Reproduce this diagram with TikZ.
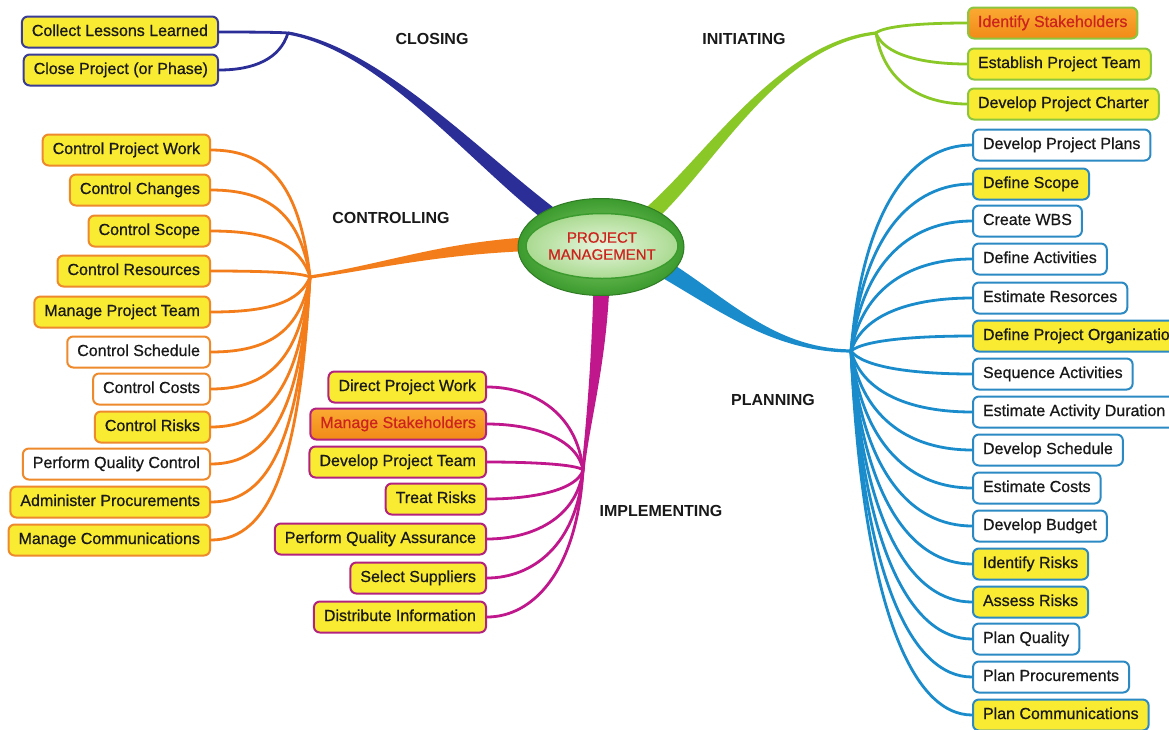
\documentclass[tikz,border=0pt]{standalone}
\usepackage{fontspec}
\setmainfont{Liberation Sans}
\newfontfamily\boxfont[FakeBold=0.7]{Liberation Sans}
\usetikzlibrary{shapes.geometric,calc}

\definecolor{cnavy}{RGB}{44,46,152}
\definecolor{cgreen}{RGB}{138,200,40}
\definecolor{corange}{RGB}{243,125,26}
\definecolor{cmagenta}{RGB}{192,24,140}
\definecolor{cblue}{RGB}{26,140,204}
\definecolor{bnavy}{RGB}{58,60,150}
\definecolor{bgreen}{RGB}{140,198,63}
\definecolor{borange}{RGB}{238,138,44}
\definecolor{bmagenta}{RGB}{178,34,126}
\definecolor{bblue}{RGB}{43,138,196}
\definecolor{boxyellow}{RGB}{249,235,50}
\definecolor{boxorangetop}{RGB}{250,170,50}
\definecolor{boxorangebot}{RGB}{242,138,24}
\definecolor{stakered}{RGB}{205,35,30}
\definecolor{txt}{RGB}{25,25,25}
\definecolor{ringdark}{RGB}{60,155,46}
\definecolor{ringlight}{RGB}{140,210,110}
\definecolor{corelight}{RGB}{232,246,222}
\definecolor{coremid}{RGB}{170,218,145}

% tapered main branch: start, control 1, control 2, end, half width at start, half width at end, colour
\newcommand\taperbranch[7]{%
  \fill[#7] ($(#1)!#5!90:(#2)$)
      .. controls ($(#2)!#5!-90:(#1)$) and ($(#3)!#6!90:(#4)$) .. ($(#4)!#6!-90:(#3)$)
      -- ($(#4)!#6!90:(#3)$)
      .. controls ($(#3)!#6!-90:(#4)$) and ($(#2)!#5!90:(#1)$) .. ($(#1)!#5!-90:(#2)$)
      -- cycle;}

\tikzset{
  box/.style={rounded corners=6pt, line width=2pt, minimum height=31pt,
    inner xsep=10pt, inner ysep=0pt, text height=11.5pt, text depth=3.5pt,
    font=\boxfont\fontsize{16}{19}\selectfont, text=txt},
  yel/.style={fill=boxyellow},
  wht/.style={fill=white},
  org/.style={top color=boxorangetop, bottom color=boxorangebot, text=stakered},
  clbox/.style={box, draw=bnavy, anchor=east},
  cobox/.style={box, draw=borange, anchor=east},
  imbox/.style={box, draw=bmagenta, anchor=east},
  inbox/.style={box, draw=bgreen, anchor=west},
  plbox/.style={box, draw=bblue, anchor=west},
  twig/.style={line width=2.8pt, line cap=round},
  phase/.style={font=\bfseries\fontsize{16}{19}\selectfont, text=black!90},
}

\begin{document}
\begin{tikzpicture}[x=1pt, y=-1pt]
\useasboundingbox (0,0) rectangle (1169,729);
\clip (0,0) rectangle (1169,729);
\fill[white] (0,0) rectangle (1169,729);

% hubs where each phase fans out
\coordinate (hCl) at (288,33);
\coordinate (hIn) at (876,33);
\coordinate (hCo) at (310,277);
\coordinate (hIm) at (583,470);
\coordinate (hPl) at (851,351);

% main branch roots (hidden under the central ellipse) and their controls
\coordinate (sCl) at (565,226);  \coordinate (aCl) at (480,165); \coordinate (bCl) at (385,50);
\coordinate (sIn) at (636,226);  \coordinate (aIn) at (700,180); \coordinate (bIn) at (770,45);
\coordinate (sCo) at (560,243);  \coordinate (aCo) at (450,245); \coordinate (bCo) at (390,265);
\coordinate (sIm) at (602,268);  \coordinate (aIm) at (600,360); \coordinate (bIm) at (588,420);
\coordinate (sPl) at (640,255);  \coordinate (aPl) at (715,295); \coordinate (bPl) at (765,350);

\taperbranch{sCl}{aCl}{bCl}{hCl}{8pt}{1.6pt}{cnavy}
\taperbranch{sIn}{aIn}{bIn}{hIn}{8pt}{1.6pt}{cgreen}
\taperbranch{sCo}{aCo}{bCo}{hCo}{7pt}{1.6pt}{corange}
\taperbranch{sIm}{aIm}{bIm}{hIm}{8pt}{1.6pt}{cmagenta}
\taperbranch{sPl}{aPl}{bPl}{hPl}{9pt}{1.6pt}{cblue}

% central topic
\node[ellipse, minimum width=166pt, minimum height=97pt, inner color=ringlight,
      outer color=ringdark, draw=ringdark!80!black, line width=1pt] (core) at (601,247) {};
\node[ellipse, minimum width=123pt, minimum height=65pt, inner color=corelight,
      outer color=coremid, draw=ringdark, line width=1.5pt, align=center,
      text=stakered, font=\boxfont\fontsize{15}{17}\selectfont, inner sep=0pt] (pmtext) at (602,246)
      {PROJECT\\MANAGEMENT};

% phase labels
\node[phase] (tCl) at (432,39) {CLOSING};
\node[phase] (tIn) at (744,39) {INITIATING};
\node[phase] (tCo) at (391,218) {CONTROLLING};
\node[phase] (tPl) at (773,400) {PLANNING};
\node[phase] (tIm) at (661,511) {IMPLEMENTING};

% closing
\node[clbox, yel] (la) at (219,32) {Collect Lessons Learned};
\node[clbox, yel] (lb) at (219,70) {Close Project (or Phase)};
\foreach \n/\y in {la/32, lb/70}
  \draw[twig, cnavy] (hCl) .. controls +(-8,{0.7*(\y-33)}) and +(35,0) .. (\n.east);

% initiating
\foreach \n/\y/\f/\lbl in {na/23/org/Identify Stakeholders,
                           nb/64/yel/Establish Project Team,
                           nc/104/yel/Develop Project Charter}
  \node[inbox, \f] (\n) at (967,\y) {\lbl};
\foreach \n/\y in {na/23, nb/64, nc/104}
  \draw[twig, cgreen] (hIn) .. controls +(8,{0.7*(\y-33)}) and +(-45,0) .. (\n.west);

% controlling
\foreach \n/\y/\f/\lbl in {ca/150/yel/Control Project Work,
                           cb/190/yel/Control Changes,
                           cc/231/yel/Control Scope,
                           cd/271/yel/Control Resources,
                           ce/312/yel/Manage Project Team,
                           cf/352/wht/Control Schedule,
                           cg/389/wht/Control Costs,
                           ch/427/yel/Control Risks,
                           ci/464/wht/Perform Quality Control,
                           cj/502/yel/Administer Procurements,
                           ck/540/yel/Manage Communications}
  \node[cobox, \f] (\n) at (211,\y) {\lbl};
\foreach \n/\y in {ca/150, cb/190, cc/231, cd/271, ce/312, cf/352,
                   cg/389, ch/427, ci/464, cj/502, ck/540}
  \draw[twig, corange] (hCo) .. controls +(-10,{0.7*(\y-277)}) and +(60,0) .. (\n.east);

% implementing
\foreach \n/\y/\f/\lbl in {ia/387/yel/Direct Project Work,
                           ib/424/org/Manage Stakeholders,
                           ic/462/yel/Develop Project Team,
                           id/499/yel/Treat Risks,
                           ie/539/yel/Perform Quality Assurance,
                           ig/578/yel/Select Suppliers,
                           ih/617/yel/Distribute Information}
  \node[imbox, \f] (\n) at (487,\y) {\lbl};
\foreach \n/\y in {ia/387, ib/424, ic/462, id/499, ie/539, ig/578, ih/617}
  \draw[twig, cmagenta] (hIm) .. controls +(-6,{0.7*(\y-470)}) and +(45,0) .. (\n.east);

% planning
\foreach \n/\y/\f/\lbl in {pa/145/wht/Develop Project Plans,
                           pb/184/yel/Define Scope,
                           pc/221/wht/Create WBS,
                           pd/259/wht/Define Activities,
                           pe/298/wht/Estimate Resorces,
                           pf/336/yel/Define Project Organization,
                           pg/374/wht/Sequence Activities,
                           ph/412/wht/Estimate Activity Duration,
                           pi/450/wht/Develop Schedule,
                           pj/488/wht/Estimate Costs,
                           pk/526/wht/Develop Budget,
                           pl/564/yel/Identify Risks,
                           pm/602/yel/Assess Risks,
                           pn/639/wht/Plan Quality,
                           po/677/wht/Plan Procurements,
                           pp/715/yel/Plan Communications}
  \node[plbox, \f] (\n) at (972,\y) {\lbl};
\foreach \n/\y in {pa/145, pb/184, pc/221, pd/259, pe/298, pf/336, pg/374, ph/412,
                   pi/450, pj/488, pk/526, pl/564, pm/602, pn/639, po/677, pp/715}
  \draw[twig, cblue] (hPl) .. controls +(12,{0.7*(\y-351)}) and +(-60,0) .. (\n.west);

\end{tikzpicture}
\end{document}
